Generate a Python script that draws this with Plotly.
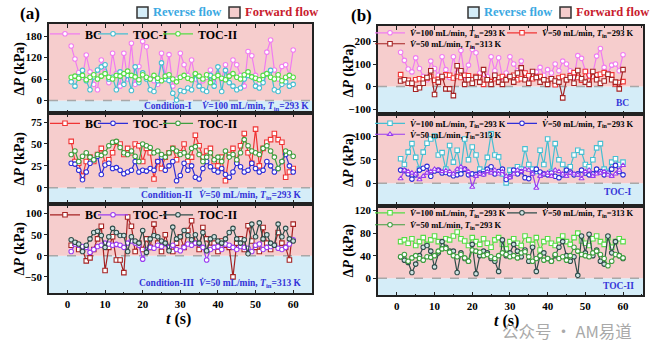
import plotly.graph_objects as go

# ---------------- data (t in s, ΔP in kPa) ----------------
t = list(range(1, 61))

BC_I = [152,116,78,65,127,80,45,30,113,80, 50,132,75,40,132,60,160,45,95,165,
        150,60,55,45,132,70,128,40,60,132, 100,70,113,60,40,55,65,85,50,75,
        60,100,70,113,100,70,40,137,125,70, 49,60,135,169,85,60,95,100,70,141]
TOC_I_I = [52,40,66,84,55,30,66,85,94,100, 60,65,30,80,45,70,28,94,50,77,
           60,30,25,55,105,60,56,20,1,28, 25,35,30,73,40,30,25,70,40,94,
           25,84,50,40,30,35,60,70,66,40, 35,50,75,84,30,25,45,52,40,45]
TOC_II_I = [65,68,62,70,58,65,72,60,68,75, 65,60,70,68,75,82,70,66,58,72,
            65,60,70,62,55,68,72,60,52,65, 70,62,58,75,68,60,72,50,65,70,
            62,58,68,75,65,60,72,80,66,62, 58,70,75,65,60,72,55,65,70,65]

BC_II = [53,30,28,13,30,35,30,38,45,28, 32,40,52,50,38,45,40,50,48,30,
         45,40,10,30,22,35,40,45,32,40, 50,30,35,60,48,35,42,45,30,25,
         35,8,38,45,30,48,62,40,28,67, 25,45,52,55,62,55,52,12,18,22]
TOC_I_II = [28,27,20,9,18,28,32,36,15,26, 28,22,23,20,16,18,20,30,18,20,
            19,22,20,30,35,20,25,30,8,14, 28,20,25,12,10,22,30,24,20,18,
            22,15,12,18,28,24,18,20,28,22, 18,20,30,25,18,22,30,38,25,18]
TOC_II_II = [38,42,30,36,40,35,32,38,37,40, 48,52,53,46,40,38,42,36,30,50,
             48,46,40,42,38,35,40,45,42,38, 40,36,45,47,38,30,35,40,32,35,
             30,42,35,38,32,40,55,48,42,40, 38,45,48,42,35,22,30,42,40,36]

BC_III = [25,30,15,15,-12,-5,15,40,70,-35, 20,45,-10,-10,-40,92,70,10,30,15,
          40,20,75,30,10,50,20,10,30,45, 20,60,83,30,15,67,40,20,30,10,
          35,25,20,-50,30,40,15,71,35,20, 10,67,30,15,25,55,30,20,-10,75]
TOC_I_III = [10,28,25,22,20,8,15,22,25,30, 28,25,27,25,20,30,35,30,25,-8,
             15,20,18,25,22,28,20,25,15,12, 20,28,25,30,28,20,-10,15,20,22,
             15,28,25,20,15,22,20,18,10,25, 28,15,20,22,25,18,15,20,28,38]
TOC_II_III = [38,32,28,10,25,40,55,58,48,20, 45,65,55,48,48,10,45,35,30,60,
              8,40,48,45,35,30,12,68,40,45, 60,48,38,50,30,55,12,40,45,35,
              30,40,55,65,40,30,38,5,75,45, 78,40,50,30,25,75,45,65,40,35]

X_TICKS = [0, 10, 20, 30, 40, 50, 60]
Y_TICKS = {1: [0, 60, 120, 180], 3: [0, 25, 50, 75], 5: [-50, 0, 50, 100],
           2: [-100, 0, 100, 200], 4: [0, 50, 100], 6: [0, 40, 80, 120]}

# ---------------- layout helpers ----------------
W, H = 660, 359
def px(x): return x / W
def py(y): return 1 - y / H

SERIF = "Liberation Serif"
PINK = "#f6cdcd"
SKY = "#d5edf8"

C_PINK = "#f07cf0"; C_CYAN = "#45bfd2"; C_LGREEN = "#55dd44"
C_RED = "#f03434"; C_BLUE = "#2e2ed8"; C_MGREEN = "#3f9f3f"
C_DRED = "#a52222"; C_VIOLET = "#9a3cf0"; C_SLATE = "#2f4d4a"

LX = [px(49), px(312)]
RX = [px(378), px(643)]
panels = {
    1: dict(xd=LX, yd=[py(113), py(23)], yr=[-36, 214], xr=[-4.9, 65]),
    3: dict(xd=LX, yd=[py(204), py(113)], yr=[-18.5, 85], xr=[-4.9, 65]),
    5: dict(xd=LX, yd=[py(294), py(204)], yr=[-89, 123], xr=[-4.9, 65]),
    2: dict(xd=RX, yd=[py(114), py(25)], yr=[-123, 269], xr=[-5, 65.3]),
    4: dict(xd=RX, yd=[py(205.7), py(114)], yr=[-47, 146], xr=[-5, 65.3]),
    6: dict(xd=RX, yd=[py(296), py(205.7)], yr=[-30.5, 129], xr=[-5, 65.3]),
}

fig = go.Figure()
layout = {}
shapes = []
tickfont = dict(family=SERIF, size=11, color="black", weight="bold")

for n, p in panels.items():
    xk = "xaxis" if n == 1 else f"xaxis{n}"
    yk = "yaxis" if n == 1 else f"yaxis{n}"
    xa = "x" if n == 1 else f"x{n}"
    ya = "y" if n == 1 else f"y{n}"
    bottom = n in (5, 6)
    layout[xk] = dict(domain=p["xd"], anchor=ya, range=p["xr"], tickvals=X_TICKS,
                      showticklabels=bottom, ticks="inside", ticklen=4, tickwidth=1.2,
                      tickcolor="#222", showline=True, linecolor="#222", linewidth=1.5,
                      mirror="ticks", showgrid=False, zeroline=False, tickfont=tickfont,
                      minor=dict(dtick=5, tick0=0, ticks="inside", ticklen=2, tickcolor="#222"))
    layout[yk] = dict(domain=p["yd"], anchor=xa, range=p["yr"], tickvals=Y_TICKS[n],
                      ticks="outside", ticklen=3, tickwidth=1.2, tickcolor="#222",
                      showline=True, linecolor="#222", linewidth=1.5, mirror=True,
                      showgrid=False, zeroline=False, tickfont=tickfont)
    shapes.append(dict(type="rect", xref=f"{xa} domain", yref=ya, x0=0, x1=1,
                       y0=p["yr"][0], y1=0, fillcolor=SKY, line=dict(width=0), layer="below"))
    shapes.append(dict(type="rect", xref=f"{xa} domain", yref=ya, x0=0, x1=1,
                       y0=0, y1=p["yr"][1], fillcolor=PINK, line=dict(width=0), layer="below"))
    shapes.append(dict(type="line", xref=f"{xa} domain", yref=ya, x0=0, x1=1,
                       y0=0, y1=0, line=dict(color="#a8a8a8", width=1.5, dash="dash"),
                       layer="below"))

V100 = "<i>V\u0307</i>=100 mL/min, <i>T</i><sub>in</sub>=293 K"
V50a = "<i>V\u0307</i>=50 mL/min, <i>T</i><sub>in</sub>=293 K"
V50b = "<i>V\u0307</i>=50 mL/min, <i>T</i><sub>in</sub>=313 K"

# (axis, data, name, color, symbol, marker fill, legend x, legend y, font size)
series = [
    (1, BC_I, "BC", C_PINK, "circle", "white", 45, 33, 12),
    (1, TOC_I_I, "TOC-I", C_CYAN, "circle", "white", 93, 33, 12),
    (1, TOC_II_I, "TOC-II", C_LGREEN, "circle", "white", 158, 33, 12),
    (3, BC_II, "BC", C_RED, "square", "white", 45, 123, 12),
    (3, TOC_I_II, "TOC-I", C_BLUE, "circle", "white", 93, 123, 12),
    (3, TOC_II_II, "TOC-II", C_MGREEN, "circle", "white", 158, 123, 12),
    (5, BC_III, "BC", C_DRED, "square", "white", 45, 215, 12),
    (5, TOC_I_III, "TOC-I", C_VIOLET, "circle", "white", 93, 215, 12),
    (5, TOC_II_III, "TOC-II", C_SLATE, "circle", "#cfe3e3", 158, 215, 12),
    (2, BC_I, V100, C_PINK, "circle", "white", 370, 32, 8.5),
    (2, BC_II, V50a, C_RED, "square", "white", 502, 32, 8.5),
    (2, BC_III, V50b, C_DRED, "square", "white", 370, 43, 8.5),
    (4, TOC_I_I, V100, C_CYAN, "square", "white", 370, 123, 8.5),
    (4, TOC_I_II, V50a, C_BLUE, "circle", "white", 502, 123, 8.5),
    (4, TOC_I_III, V50b, C_VIOLET, "triangle-up", "white", 370, 134, 8.5),
    (6, TOC_II_I, V100, C_LGREEN, "square", "white", 370, 213, 8.5),
    (6, TOC_II_III, V50b, C_SLATE, "circle", "#cfe3e3", 502, 213, 8.5),
    (6, TOC_II_II, V50a, C_MGREEN, "circle", "white", 370, 225, 8.5),
]

for i, (n, vals, name, col, sym, fill, lx, ly, fs) in enumerate(series):
    lk = "legend" if i == 0 else f"legend{i + 1}"
    fig.add_trace(go.Scatter(
        x=t, y=vals, name=name, mode="lines+markers",
        xaxis="x" if n == 1 else f"x{n}", yaxis="y" if n == 1 else f"y{n}",
        line=dict(color=col, width=1.2),
        marker=dict(symbol=sym, size=4.5, color=fill, line=dict(color=col, width=1.1)),
        legend=lk, showlegend=True))
    layout[lk] = dict(x=px(lx), y=py(ly), xanchor="left", yanchor="middle",
                      bgcolor="rgba(0,0,0,0)", borderwidth=0, orientation="h",
                      font=dict(family=SERIF, size=fs, color="black", weight="bold"))

# top keys for shaded regions
def key_box(x0, fill):
    shapes.append(dict(type="rect", xref="paper", yref="paper",
                       x0=px(x0), x1=px(x0 + 11), y0=py(17), y1=py(6),
                       fillcolor=fill, line=dict(color="#333", width=1.5)))

annotations = []
def txt(x, y, s, size, color="black", xanchor="left", angle=0, family=SERIF, weight="bold"):
    annotations.append(dict(x=px(x), y=py(y), xref="paper", yref="paper", text=s,
                            showarrow=False, xanchor=xanchor, yanchor="middle",
                            textangle=angle,
                            font=dict(family=family, size=size, color=color, weight=weight)))

for (rb, fb) in [(137, 229), (468, 560)]:
    key_box(rb, SKY)
    key_box(fb, PINK)
    txt(rb + 14, 11.5, "Reverse flow", 12.5, "#3aa9e2")
    txt(fb + 14, 11.5, "Forward flow", 12.5, "#c8202e")

txt(30, 13, "(a)", 17, xanchor="center")
txt(361, 15, "(b)", 17, xanchor="center")

CBLUE = "#3535d8"
txt(142, 106, "Condition-I", 9.5, CBLUE)
txt(311, 106, V100, 9.5, CBLUE, xanchor="right")
txt(139, 195, "Condition-II", 9.5, CBLUE)
txt(304, 195, V50a, 9.5, CBLUE, xanchor="right")
txt(137, 284, "Condition-III", 9.5, CBLUE)
txt(304, 284, V50b, 9.5, CBLUE, xanchor="right")
txt(631, 103, "BC", 9.5, CBLUE, xanchor="right")
txt(634, 192, "TOC-I", 9.5, CBLUE, xanchor="right")
txt(636, 287, "TOC-II", 9.5, CBLUE, xanchor="right")

YT = "\u0394<i>P</i> (kPa)"
for yc in (68, 158.5, 249):
    txt(20, yc, YT, 14, xanchor="center", angle=-90)
for yc in (70, 160, 251):
    txt(349, yc, YT, 14, xanchor="center", angle=-90)

txt(178, 320, "<i>t</i> (s)", 16, xanchor="center")
txt(506, 322, "<i>t</i> (s)", 16, xanchor="center")

txt(500, 332, "公众号 · AM易道", 16.5, "#a9a9a9", family="Noto Sans CJK SC", weight="normal")

fig.update_layout(**layout)
fig.update_layout(width=W, height=H, margin=dict(l=0, r=0, t=0, b=0),
                  paper_bgcolor="white", plot_bgcolor="white",
                  shapes=shapes, annotations=annotations, showlegend=True)

fig.write_html("out.html", config={"displayModeBar": False},
               post_script="document.body.style.margin='0';document.body.style.overflow='hidden';")
